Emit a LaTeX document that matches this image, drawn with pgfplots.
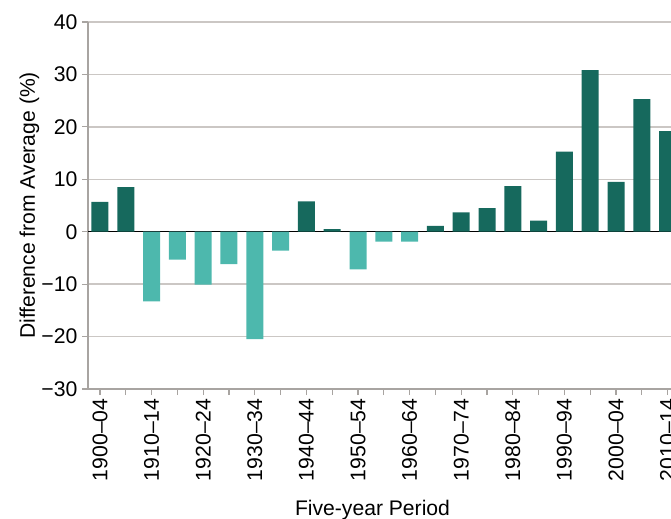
\documentclass[border=0pt]{standalone}
\usepackage{pgfplots}
\pgfplotsset{compat=1.18}
\usepackage{fontspec}
\setmainfont{Liberation Sans}
\definecolor{darkteal}{HTML}{16695D}
\definecolor{lightteal}{HTML}{4DB8AD}
\definecolor{gridgray}{HTML}{CBC7C4}
\definecolor{axisgray}{HTML}{A8A4A1}
\begin{document}
\begin{tikzpicture}
\useasboundingbox (-88bp,-130bp) rectangle (583bp,389bp);
\clip (-88bp,-130bp) rectangle (583bp,389bp);
\begin{axis}[
  anchor=south west, at={(0,0)},
  scale only axis,
  width=592.5bp, height=367bp,
  xmin=-0.465, xmax=22.5,
  ymin=-30, ymax=40,
  axis x line*=bottom, axis y line*=left,
  axis line style={axisgray, line width=1.3bp},
  ytick={-30,-20,...,40},
  yticklabels={−30,−20,−10,0,10,20,30,40},
  xtick={0,...,22},
  xticklabels={1900–04,,1910–14,,1920–24,,1930–34,,1940–44,,1950–54,,1960–64,,1970–74,,1980–84,,1990–94,,2000–04,,2010–14},
  tick align=outside,
  major tick length=6bp,
  tick style={axisgray, line width=1.2bp},
  ymajorgrids,
  grid style={gridgray, line width=1.3bp},
  extra y ticks={0},
  extra y tick labels={},
  extra y tick style={grid style={black, line width=1.5bp}, major tick length=0pt},
  /pgf/number format/assume math mode=true,
  yticklabel style={font=\fontsize{21.3}{25}\selectfont, anchor=east, xshift=-1bp},
  xticklabel style={font=\fontsize{21.3}{25}\selectfont, rotate=90, anchor=east},
  xlabel={Five-year Period},
  ylabel={Difference from Average (\%)},
  label style={font=\fontsize{21.2}{25}\selectfont},
  xlabel style={at={(axis description cs:0,0)}, anchor=base, xshift=284.5bp, yshift=-126bp},
  ylabel style={at={(axis description cs:-0.0895,0.5)}, anchor=base},
  ybar, bar width=17bp,
  clip=false,
]
\addplot[fill=darkteal, draw=none, bar shift=0pt] coordinates {
(0,5.7) (1,8.5) (8,5.8) (9,0.5) (13,1.1) (14,3.7) (15,4.5) (16,8.7) (17,2.1) (18,15.3) (19,30.8) (20,9.5) (21,25.3) (22,19.2)
};
\addplot[fill=lightteal, draw=none, bar shift=0pt] coordinates {
(2,-13.3) (3,-5.3) (4,-10.1) (5,-6.2) (6,-20.5) (7,-3.6) (10,-7.2) (11,-1.9) (12,-1.9)
};
\end{axis}
\end{tikzpicture}
\end{document}
